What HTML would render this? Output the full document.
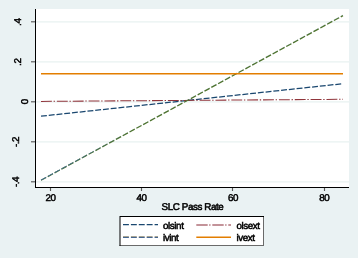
<!DOCTYPE html>
<html><head><meta charset="utf-8">
<style>
html,body{margin:0;padding:0;width:358px;height:258px;overflow:hidden;background:#EAF2F3;}
svg{display:block;will-change:transform;}
text{text-rendering:geometricPrecision;font-family:"Liberation Sans",sans-serif;font-size:9.8px;letter-spacing:-0.4px;fill:#000;stroke:#000;stroke-width:0.5px;}
</style></head>
<body>
<svg width="358" height="258" viewBox="0 0 358 258">
<rect x="0" y="0" width="358" height="258" fill="#EAF2F3"/>
<!-- plot region -->
<rect x="36" y="9" width="313" height="178" fill="#fff"/>
<g stroke="#E8F2F1" stroke-width="1.3">
<line x1="36" y1="21.8" x2="349" y2="21.8"/>
<line x1="36" y1="61.8" x2="349" y2="61.8"/>
<line x1="36" y1="101.8" x2="349" y2="101.8"/>
<line x1="36" y1="141.8" x2="349" y2="141.8"/>
<line x1="36" y1="181.8" x2="349" y2="181.8"/>
</g>
<!-- axes -->
<g stroke="#000" stroke-width="1">
<line x1="35.5" y1="9" x2="35.5" y2="188"/>
<line x1="35" y1="187.5" x2="349" y2="187.5"/>
</g>
<g stroke="#5a5a5a" stroke-width="1.15">
<line x1="31" y1="21.8" x2="35" y2="21.8"/>
<line x1="31" y1="61.8" x2="35" y2="61.8"/>
<line x1="31" y1="101.8" x2="35" y2="101.8"/>
<line x1="31" y1="141.8" x2="35" y2="141.8"/>
<line x1="31" y1="181.8" x2="35" y2="181.8"/>
<line x1="50.5" y1="188" x2="50.5" y2="191"/>
<line x1="141.5" y1="188" x2="141.5" y2="191"/>
<line x1="232.5" y1="188" x2="232.5" y2="191"/>
<line x1="324.5" y1="188" x2="324.5" y2="191"/>
</g>
<!-- y labels -->
<text transform="translate(20.5,22.2) rotate(-90)" text-anchor="middle">.4</text>
<text transform="translate(20.5,62.2) rotate(-90)" text-anchor="middle">.2</text>
<text transform="translate(27.5,101.8) rotate(-90)" text-anchor="middle">0</text>
<text transform="translate(18.6,142) rotate(-90)" text-anchor="middle">-.2</text>
<text transform="translate(18.6,182) rotate(-90)" text-anchor="middle">-.4</text>
<!-- x labels -->
<text x="50.5" y="200.6" text-anchor="middle">20</text>
<text x="141.5" y="200.6" text-anchor="middle">40</text>
<text x="233" y="200.6" text-anchor="middle">60</text>
<text x="324.3" y="200.6" text-anchor="middle">80</text>
<text x="192.5" y="209.5" text-anchor="middle">SLC Pass Rate</text>
<!-- data lines -->
<defs>
<linearGradient id="bg" gradientUnits="userSpaceOnUse" x1="41" y1="180" x2="343" y2="15">
<stop offset="0" stop-color="#3F6A9C" stop-opacity="1"/>
<stop offset="0.08" stop-color="#3F6A9C" stop-opacity="0.9"/>
<stop offset="0.2" stop-color="#3F6A9C" stop-opacity="0.45"/>
<stop offset="0.3" stop-color="#3F6A9C" stop-opacity="0.15"/>
<stop offset="1" stop-color="#3F6A9C" stop-opacity="0.2"/>
</linearGradient>
</defs>
<line x1="41" y1="116.2" x2="343" y2="83.7" stroke="#1A476F" stroke-width="1.25" stroke-dasharray="5.9 1.89"/>
<line x1="41" y1="101.4" x2="343" y2="99.3" stroke="#90353B" stroke-width="1.05" stroke-dasharray="10.9 1.7 1.4 1.86"/>
<line x1="41" y1="180.3" x2="343" y2="15.6" stroke="#4F7426" stroke-width="1.3" stroke-dasharray="5.9 1.86"/>
<line x1="41" y1="180.1" x2="343" y2="15.0" stroke="url(#bg)" stroke-width="1.0" stroke-dasharray="5.9 1.86"/>
<line x1="41" y1="73.7" x2="343" y2="73.7" stroke="#E37E00" stroke-width="1.4"/>
<!-- legend -->
<rect x="120" y="216.5" width="143.5" height="29" fill="#fff" stroke="none"/>
<line x1="120" y1="216.5" x2="264" y2="216.5" stroke="#000" stroke-width="1"/>
<line x1="119.5" y1="245.5" x2="264" y2="245.5" stroke="#6a6a6a" stroke-width="1"/>
<line x1="120" y1="216" x2="120" y2="246" stroke="#000" stroke-width="1"/>
<line x1="263.5" y1="217" x2="263.5" y2="246" stroke="#6a6a6a" stroke-width="1"/>
<line x1="123" y1="224.6" x2="158" y2="224.6" stroke="#1A476F" stroke-width="1.3" stroke-dasharray="5.9 2"/>
<line x1="123" y1="236.8" x2="158" y2="236.8" stroke="#8A8670" stroke-width="1.1" stroke-dasharray="5.9 2"/>
<line x1="123" y1="237.5" x2="158" y2="237.5" stroke="#45658F" stroke-width="1.0" stroke-dasharray="5.9 2"/>
<line x1="196.3" y1="224.9" x2="231" y2="224.9" stroke="#B07078" stroke-width="1.5" stroke-dasharray="11.4 1.5 1.3 1.8"/>
<line x1="196.3" y1="237.2" x2="231" y2="237.2" stroke="#E37E00" stroke-width="1.5"/>
<text x="163" y="228.5">olsint</text>
<text x="163" y="240.5">ivint</text>
<text x="236.4" y="228.5">olsext</text>
<text x="236.4" y="240.5">ivext</text>
</svg>
</body></html>
